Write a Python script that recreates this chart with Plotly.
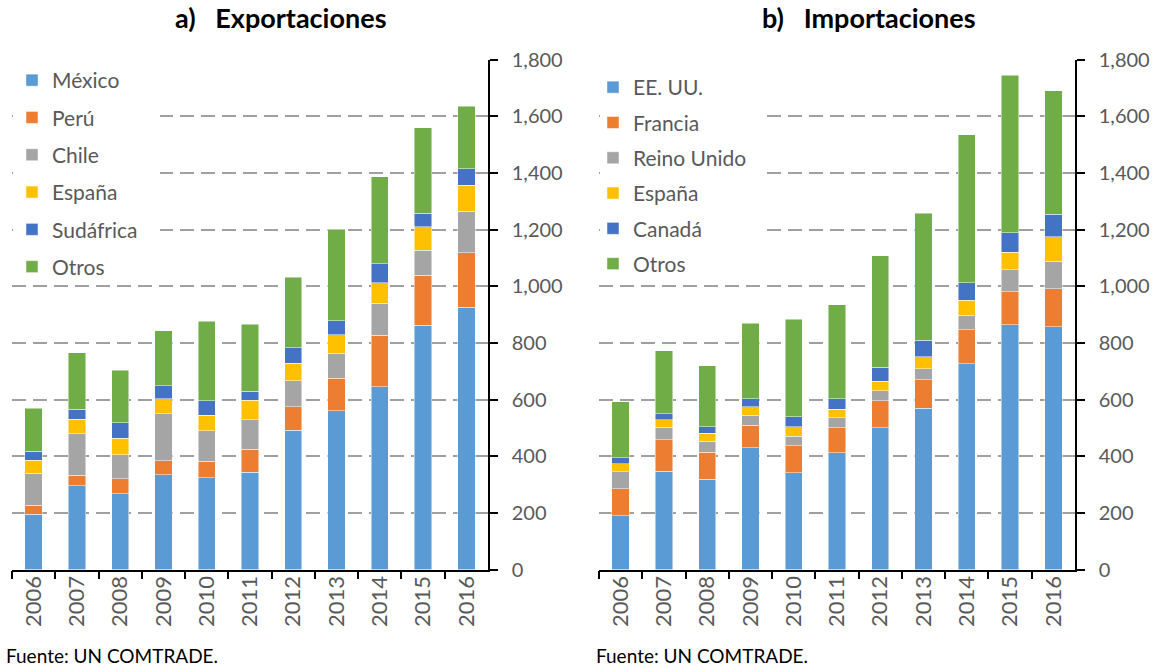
import plotly.graph_objects as go

years = ["2006", "2007", "2008", "2009", "2010", "2011", "2012", "2013", "2014", "2015", "2016"]

# a) Exportaciones
exp_mexico    = [195, 296, 268, 335, 323, 344, 492, 560, 645, 862, 925]
exp_peru      = [32, 37, 52, 49, 59, 81, 83, 115, 182, 176, 193]
exp_chile     = [112, 147, 85, 166, 108, 104, 91, 88, 113, 89, 147]
exp_espana    = [46, 50, 59, 52, 54, 68, 62, 65, 72, 82, 92]
exp_sudafrica = [32, 35, 54, 47, 52, 32, 55, 50, 67, 48, 58]
exp_otros     = [152, 200, 185, 193, 281, 236, 249, 323, 308, 302, 220]

# b) Importaciones
imp_eeuu    = [190, 347, 319, 430, 342, 412, 500, 569, 726, 864, 857]
imp_francia = [95, 111, 95, 80, 94, 88, 96, 101, 120, 116, 134]
imp_reino   = [60, 44, 38, 34, 34, 36, 35, 39, 52, 78, 97]
imp_espana  = [28, 27, 29, 31, 33, 30, 34, 42, 53, 62, 87]
imp_canada  = [22, 21, 23, 28, 36, 36, 49, 58, 61, 69, 79]
imp_otros   = [197, 222, 215, 266, 345, 332, 394, 449, 523, 555, 436]

exp_names = ["México", "Perú", "Chile", "España", "Sudáfrica", "Otros"]
imp_names = ["EE. UU.", "Francia", "Reino Unido", "España", "Canadá", "Otros"]
colors = ["#5B9BD5", "#ED7D31", "#A5A5A5", "#FFC000", "#4472C4", "#70AD47"]

exp_series = [exp_mexico, exp_peru, exp_chile, exp_espana, exp_sudafrica, exp_otros]
imp_series = [imp_eeuu, imp_francia, imp_reino, imp_espana, imp_canada, imp_otros]

FONT = "Lato"
GRAY = "#595959"

fig = go.Figure()
for i, (name, vals) in enumerate(zip(exp_names, exp_series)):
    fig.add_trace(go.Bar(
        x=years, y=vals, name=name, marker_color=colors[i],
        marker_line=dict(color="rgba(255,255,255,0.6)", width=0.8),
        xaxis="x", yaxis="y", legend="legend", legendgroup="a%d" % i,
    ))
for i, (name, vals) in enumerate(zip(imp_names, imp_series)):
    fig.add_trace(go.Bar(
        x=years, y=vals, name=name, marker_color=colors[i],
        marker_line=dict(color="rgba(255,255,255,0.6)", width=0.8),
        xaxis="x2", yaxis="y2", legend="legend2", legendgroup="b%d" % i,
    ))

W, H = 1157, 669
def px_x(p):
    return p / W
def px_y(p):
    return (H - p) / H

y_dom = [px_y(569.5), px_y(59.5)]

xcommon = dict(
    type="category", showline=True, linecolor="black", linewidth=1.5,
    ticks="outside", tickson="boundaries", ticklen=8, tickcolor="black", tickwidth=1.5,
    tickangle=-90, tickfont=dict(family=FONT, size=22, color=GRAY),
    showgrid=False, fixedrange=True, automargin=False, ticklabelstandoff=-4,
)
ycommon = dict(
    range=[0, 1800], dtick=200, tickformat=",", side="right",
    showline=True, linecolor="black", linewidth=1.5,
    ticks="outside", ticklen=8, tickcolor="black", tickwidth=1.5,
    tickfont=dict(family=FONT, size=20, color=GRAY),
    showgrid=True, gridcolor="#A0A0A0", gridwidth=2, griddash="14px,7px",
    zeroline=False, domain=y_dom, ticklabelstandoff=10, automargin=False,
    fixedrange=True,
)

legcommon = dict(
    bgcolor="rgba(0,0,0,0)", font=dict(family=FONT, size=21, color=GRAY),
    traceorder="grouped", xanchor="left", yanchor="top",
    itemclick=False, itemdoubleclick=False,
)

shapes = [
    dict(type="rect", xref="paper", yref="paper", x0=px_x(13), x1=px_x(160),
         y0=px_y(282), y1=px_y(64), fillcolor="white", line_width=0, layer="above"),
    dict(type="rect", xref="paper", yref="paper", x0=px_x(600), x1=px_x(763),
         y0=px_y(282), y1=px_y(64), fillcolor="white", line_width=0, layer="above"),
]

fig.update_layout(
    width=W, height=H, margin=dict(l=0, r=0, t=0, b=0, autoexpand=False),
    plot_bgcolor="white", paper_bgcolor="white",
    barmode="stack", bargap=0.6,
    font=dict(family=FONT),
    xaxis=dict(domain=[px_x(12), px_x(488)], anchor="y", **xcommon),
    xaxis2=dict(domain=[px_x(599), px_x(1075)], anchor="y2", **xcommon),
    yaxis=dict(anchor="x", **ycommon),
    yaxis2=dict(anchor="x2", **ycommon),
    legend=dict(x=px_x(12), y=px_y(60), tracegroupgap=7, **legcommon),
    legend2=dict(x=px_x(593), y=px_y(67), tracegroupgap=5, **legcommon),
    shapes=shapes,
    annotations=[
        dict(text="<b>a)   Exportaciones</b>", x=px_x(281), y=px_y(18), xref="paper", yref="paper",
             showarrow=False, font=dict(family=FONT, size=27, color="black"), xanchor="center", yanchor="middle"),
        dict(text="<b>b)   Importaciones</b>", x=px_x(869), y=px_y(18), xref="paper", yref="paper",
             showarrow=False, font=dict(family=FONT, size=27, color="black"), xanchor="center", yanchor="middle"),
        dict(text="Fuente: UN COMTRADE.", x=px_x(4), y=px_y(655), xref="paper", yref="paper",
             showarrow=False, font=dict(family=FONT, size=19, color="black"), xanchor="left", yanchor="middle"),
        dict(text="Fuente: UN COMTRADE.", x=px_x(594), y=px_y(655), xref="paper", yref="paper",
             showarrow=False, font=dict(family=FONT, size=19, color="black"), xanchor="left", yanchor="middle"),
    ],
)

fig.write_html("out.html", config={"displayModeBar": False},
               post_script="document.body.style.margin='0';")
